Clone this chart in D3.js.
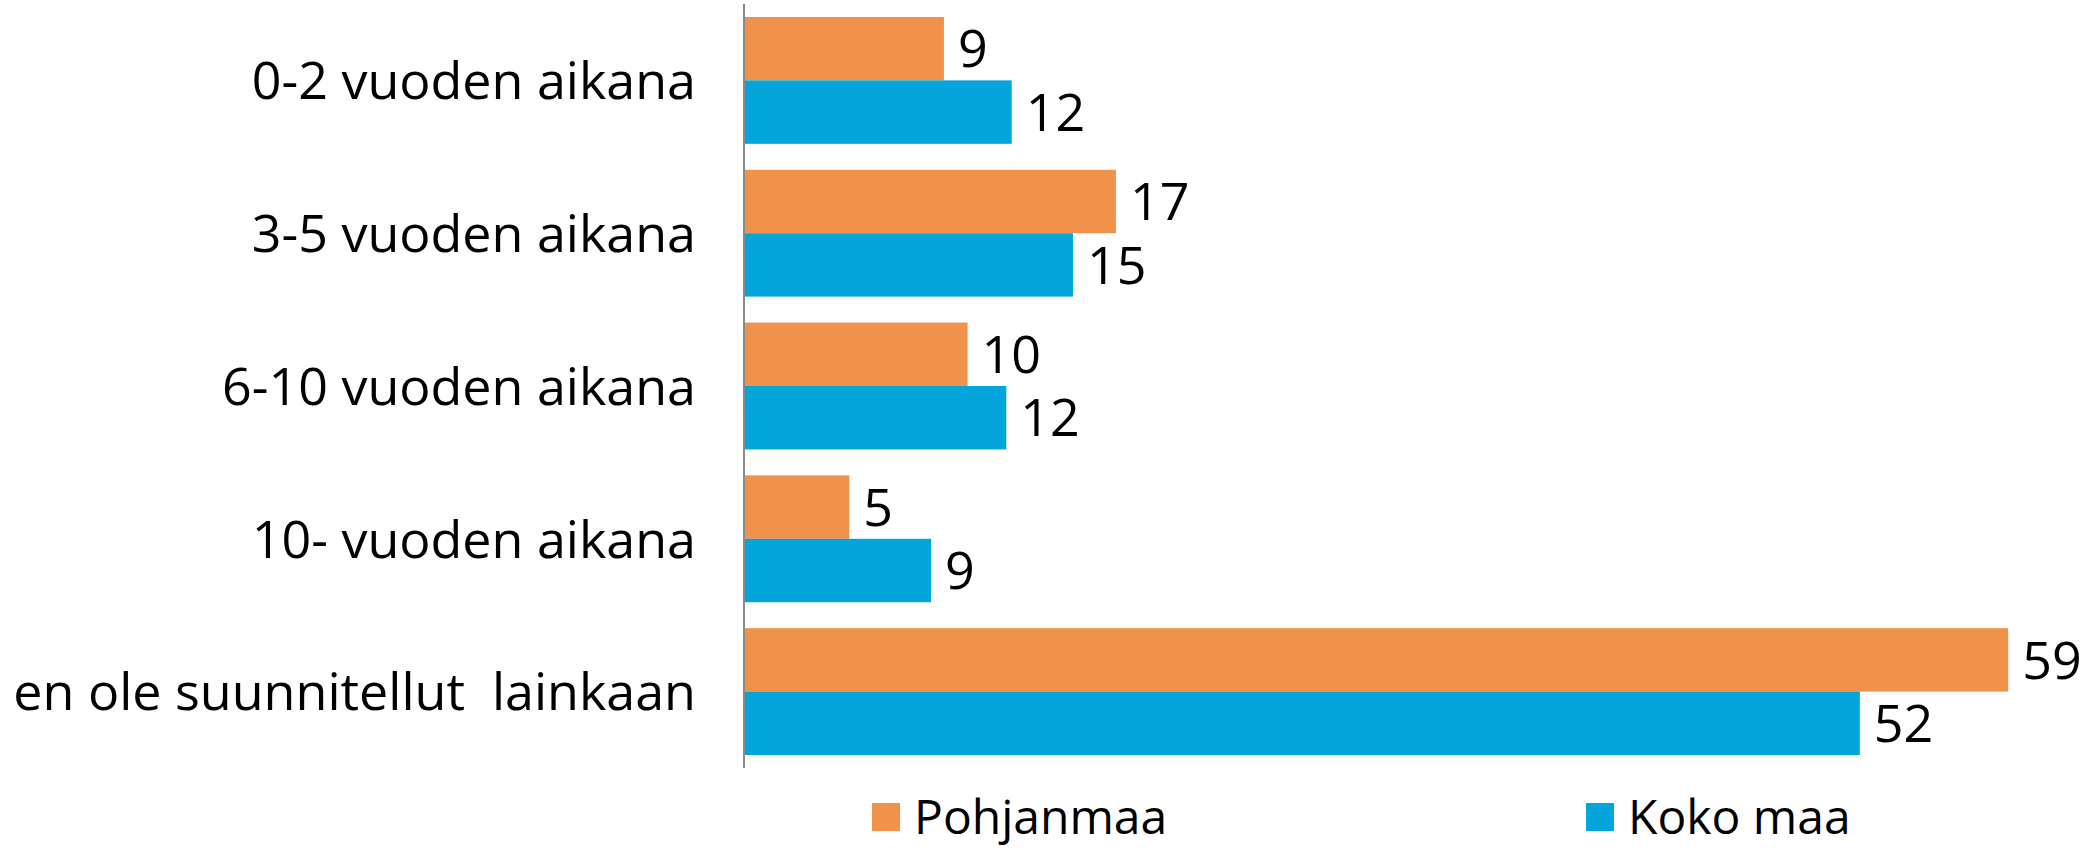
<!DOCTYPE html>
<html>
<head>
<meta charset="utf-8">
<script src="https://cdn.jsdelivr.net/npm/d3@7"></script>
<style>
  html, body { margin: 0; padding: 0; background: #fff; }
  svg { display: block; font-family: "Open Sans", "Liberation Sans", sans-serif; }
  text { white-space: pre; }
</style>
</head>
<body>
<svg id="chart" width="2088" height="853"></svg>
<script>
const categories = [
  "0-2 vuoden aikana",
  "3-5 vuoden aikana",
  "6-10 vuoden aikana",
  "10- vuoden aikana",
  "en ole suunnitellut  lainkaan"
];
const seriesNames = ["Pohjanmaa", "Koko maa"];
const pohjanmaa = [9.3, 17.3, 10.4, 4.9, 58.8];
const kokoMaa = [12.45, 15.3, 12.2, 8.7, 51.9];
const colors = ["#F1924C", "#03A5DB"];

const svg = d3.select("#chart");
const x0 = 744;
const x = d3.scaleLinear().domain([0, 60]).range([x0, x0 + 1290]);
const y = d3.scaleBand().domain(categories).range([4, 768])
  .paddingInner(0.17).paddingOuter(0.085);
const ys = d3.scaleBand().domain(seriesNames).range([0, y.bandwidth()]);

const rows = categories.map((c, i) => ({
  cat: c,
  vals: [
    { s: seriesNames[0], v: pohjanmaa[i], c: colors[0] },
    { s: seriesNames[1], v: kokoMaa[i], c: colors[1] }
  ]
}));

const g = svg.selectAll("g.cat").data(rows).join("g")
  .attr("class", "cat")
  .attr("transform", d => `translate(0,${y(d.cat)})`);

g.selectAll("rect").data(d => d.vals).join("rect")
  .attr("x", x(0))
  .attr("y", d => ys(d.s))
  .attr("width", d => x(d.v) - x(0))
  .attr("height", ys.bandwidth())
  .attr("fill", d => d.c);

g.selectAll("text.val").data(d => d.vals).join("text")
  .attr("class", "val")
  .attr("x", d => x(d.v) + 14)
  .attr("y", d => ys(d.s) + ys.bandwidth() / 2)
  .attr("dy", "0.36em")
  .attr("font-size", 52)
  .attr("fill", "#000")
  .text(d => d3.format(".0f")(d.v));

// category axis
const yAxis = d3.axisLeft(y).tickSize(0).tickPadding(48);
const ag = svg.append("g").attr("transform", `translate(${x0},0)`).call(yAxis);
ag.select(".domain").attr("stroke", "#898989").attr("stroke-width", 2)
  .attr("d", `M0,${y.range()[0]}V${y.range()[1]}`);
ag.selectAll(".tick text")
  .attr("font-size", 52)
  .attr("font-family", "'Open Sans', sans-serif")
  .attr("fill", "#000")
  .attr("dy", "0.36em")
  .style("white-space", "pre");

// legend
const legendX = [872, 1586];
const lg = svg.selectAll("g.leg").data(seriesNames).join("g")
  .attr("class", "leg")
  .attr("transform", (d, i) => `translate(${legendX[i]},803)`);
lg.append("rect").attr("width", 28).attr("height", 28)
  .attr("fill", (d, i) => colors[i]);
lg.append("text").attr("x", 42).attr("y", 14).attr("dy", "0.36em")
  .attr("font-size", 48).attr("fill", "#000").text(d => d);
</script>
</body>
</html>
